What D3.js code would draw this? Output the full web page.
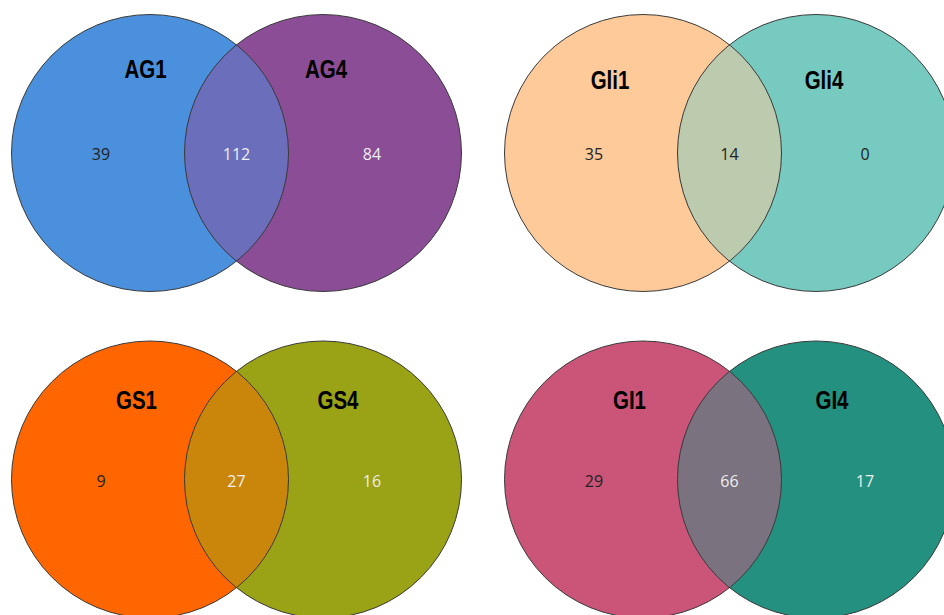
<!DOCTYPE html>
<html>
<head>
<meta charset="utf-8">
<script src="https://cdn.jsdelivr.net/npm/d3@7/dist/d3.min.js"></script>
<style>
  html, body { margin: 0; padding: 0; background: #fff; }
  svg { display: block; }
</style>
</head>
<body>
<svg id="chart" width="944" height="615"></svg>
<script>
// Two-set Venn diagrams, one per tissue pair
const setNamesA = ["AG1", "Gli1", "GS1", "GI1"];
const setNamesB = ["AG4", "Gli4", "GS4", "GI4"];
// counts: only in A, shared, only in B
const onlyA  = [39, 35, 9, 29];
const shared = [112, 14, 27, 66];
const onlyB  = [84, 0, 16, 17];

// fill colours: set A, overlap, set B
const colorsA    = ["#4a90dd", "#feca99", "#ff6600", "#cb5479"];
const colorsLens = ["#6b6eba", "#bccaad", "#c9860a", "#7a727e"];
const colorsB    = ["#8a4d96", "#77cabf", "#9aa215", "#24907f"];
// number colours per region
const numColA    = ["#222", "#222", "#222", "#222"];
const numColLens = ["#eee", "#222", "#eee", "#eee"];
const numColB    = ["#eee", "#222", "#eee", "#eee"];

const W = 944, H = 615;
const svg = d3.select("#chart");

// panel grid
const col = d3.scalePoint().domain([0, 1]).range([236.5, 729.5]);
const row = d3.scalePoint().domain([0, 1]).range([153, 479.5]);
const R = 138.5, half = 86.5, numOff = 135.5;
// title placement per panel (x offsets from panel centre, y offset from centre)
const titleOffA = [-91, -119.5, -100, -100];
const titleOffB = [89.5, 94.5, 101.5, 102.5];
const titleDy   = [-75, -64, -70.5, -70.5];

const panels = setNamesA.map((a, i) => ({
  i, a, b: setNamesB[i],
  cx: col(i % 2), cy: row(Math.floor(i / 2))
}));

const defs = svg.append("defs");
panels.forEach(p => {
  defs.append("clipPath").attr("id", "clipA" + p.i)
    .append("circle").attr("cx", p.cx - half).attr("cy", p.cy).attr("r", R);
});

const g = svg.selectAll("g.panel").data(panels).join("g").attr("class", "panel");

g.append("circle")
  .attr("cx", d => d.cx - half).attr("cy", d => d.cy).attr("r", R)
  .attr("fill", d => colorsA[d.i]);
g.append("circle")
  .attr("cx", d => d.cx + half).attr("cy", d => d.cy).attr("r", R)
  .attr("fill", d => colorsB[d.i]);
// overlap lens
g.append("circle")
  .attr("cx", d => d.cx + half).attr("cy", d => d.cy).attr("r", R)
  .attr("clip-path", d => `url(#clipA${d.i})`)
  .attr("fill", d => colorsLens[d.i]);
// outlines
[-1, 1].forEach(s => {
  g.append("circle")
    .attr("cx", d => d.cx + s * half).attr("cy", d => d.cy).attr("r", R)
    .attr("fill", "none").attr("stroke", "#3a3a3a").attr("stroke-width", 1);
});

// set titles, in a condensed bold face
const titleStyle = sel => sel
  .attr("text-anchor", "middle")
  .attr("font-family", "'Liberation Sans', Arial, sans-serif")
  .attr("font-weight", "bold").attr("font-size", 25).attr("fill", "#000");
g.append("text").call(titleStyle)
  .attr("transform", d => `translate(${d.cx + titleOffA[d.i]},${d.cy + titleDy[d.i]}) scale(0.82,1)`)
  .text(d => d.a);
g.append("text").call(titleStyle)
  .attr("transform", d => `translate(${d.cx + titleOffB[d.i]},${d.cy + titleDy[d.i]}) scale(0.82,1)`)
  .text(d => d.b);

// region counts
const numStyle = sel => sel
  .attr("text-anchor", "middle").attr("dominant-baseline", "central")
  .attr("font-family", "'Open Sans', 'DejaVu Sans', sans-serif").attr("font-size", 16);
g.append("text").call(numStyle)
  .attr("x", d => d.cx - numOff).attr("y", d => d.cy + 1)
  .attr("fill", d => numColA[d.i]).text(d => onlyA[d.i]);
g.append("text").call(numStyle)
  .attr("x", d => d.cx).attr("y", d => d.cy + 1)
  .attr("fill", d => numColLens[d.i]).text(d => shared[d.i]);
g.append("text").call(numStyle)
  .attr("x", d => d.cx + numOff).attr("y", d => d.cy + 1)
  .attr("fill", d => numColB[d.i]).text(d => onlyB[d.i]);
</script>
</body>
</html>
